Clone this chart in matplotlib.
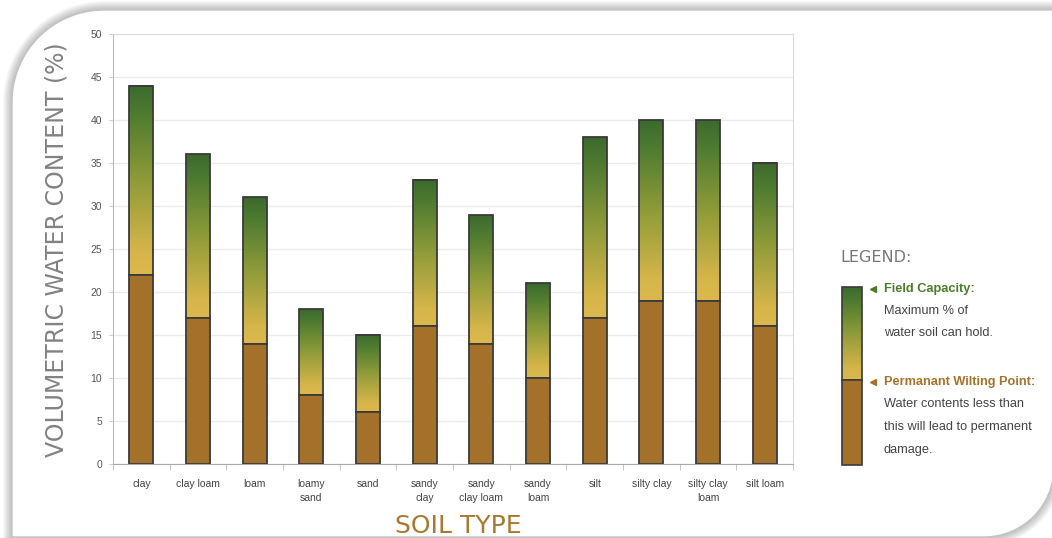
import numpy as np
import matplotlib
matplotlib.use("Agg")
import matplotlib.pyplot as plt
from matplotlib.colors import LinearSegmentedColormap
from matplotlib.path import Path
from matplotlib.patches import PathPatch

# ---------------- data ----------------
soil_types = ["clay", "clay loam", "loam", "loamy\nsand", "sand", "sandy\nclay",
              "sandy\nclay loam", "sandy\nloam", "silt", "silty clay",
              "silty clay\nloam", "silt loam"]
wilting_point = [22, 17, 14, 8, 6, 16, 14, 10, 17, 19, 19, 16]
field_capacity = [44, 36, 31, 18, 15, 33, 29, 21, 38, 40, 40, 35]
y_ticks = [0, 5, 10, 15, 20, 25, 30, 35, 40, 45, 50]

# ---------------- style ----------------
W, H = 1052, 538
BROWN = "#a3712a"
GREEN_TXT = "#4b7d2c"
BROWN_TXT = "#a6732a"
EDGE = "#3a3a3a"
grad_cmap = LinearSegmentedColormap.from_list(
    "fc", [(0.0, "#dbb84d"), (0.12, "#d6b54a"), (0.5, "#8f9b39"),
           (0.85, "#4e7b30"), (1.0, "#3c6a2e")])
plt.rcParams["font.family"] = ["Liberation Sans", "DejaVu Sans"]

fig = plt.figure(figsize=(W / 100, H / 100), dpi=100, facecolor="white")

# ---------------- background card (pixel coordinates) ----------------
bg = fig.add_axes([0, 0, 1, 1], zorder=0)
bg.set_xlim(0, W)
bg.set_ylim(H, 0)
bg.axis("off")


def arc(cx, cy, r, a0, a1, n=40):
    t = np.radians(np.linspace(a0, a1, n))
    return np.column_stack([cx + r * np.cos(t), cy + r * np.sin(t)])


r1, r2 = 92, 70
left, top, right, bottom = 12, 10, 1054, 537
pts = np.vstack([
    [[left, H + 40]],
    arc(left + r1, top + r1, r1, 180, 270),
    [[right, top]],
    arc(right - r2, bottom - r2, r2, 0, 90),
    [[left, bottom]],
    [[left, H + 40]],
])
card = Path(pts)
for i in range(8, 0, -1):
    bg.add_patch(PathPatch(card, fill=False, edgecolor="#000000",
                           lw=i * 1.6, alpha=0.03, joinstyle="round"))
bg.add_patch(PathPatch(card, facecolor="white", edgecolor="#c4c4c4", lw=1.0))

# ---------------- main chart ----------------
ax = fig.add_axes([113 / W, 1 - 464 / H, (793 - 113) / W, (464 - 34) / H], zorder=2)
ax.set_facecolor("none")
x = np.arange(len(soil_types))
bw = 0.42
grad = np.linspace(0, 1, 256).reshape(-1, 1)

for xi, wp, fc in zip(x, wilting_point, field_capacity):
    ax.imshow(grad, extent=(xi - bw / 2, xi + bw / 2, wp, fc), origin="lower",
              aspect="auto", cmap=grad_cmap, zorder=2, interpolation="bilinear")
ax.bar(x, np.array(field_capacity) - np.array(wilting_point), bw,
       bottom=wilting_point, fill=False, edgecolor=EDGE, lw=1.3, zorder=3)
ax.bar(x, wilting_point, bw, color=BROWN, edgecolor=EDGE, lw=1.3, zorder=3)

ax.set_xlim(-0.5, len(soil_types) - 0.5)
ax.set_ylim(0, 50)
ax.set_yticks(y_ticks)
ax.set_yticklabels([str(v) for v in y_ticks])
ax.yaxis.grid(True, color="#ebebeb", lw=1.0)
ax.set_axisbelow(True)
ax.tick_params(axis="y", length=3, color="#cccccc", labelsize=7.5,
               labelcolor="#555555", pad=5)
ax.set_xticks(x)
ax.set_xticklabels(soil_types, fontsize=7.5, color="#444444", linespacing=1.45)
ax.tick_params(axis="x", which="major", length=0, pad=11)
ax.set_xticks(np.arange(-0.5, len(soil_types), 1), minor=True)
ax.tick_params(axis="x", which="minor", length=4, color="#bbbbbb")
for s in ["top", "right"]:
    ax.spines[s].set_color("#dadada")
ax.spines["left"].set_color("#bbbbbb")
ax.spines["bottom"].set_color("#aaaaaa")

# axis titles
fig.text(57 / W, 1 - 250 / H, "VOLUMETRIC WATER CONTENT (%)", rotation=90,
         ha="center", va="center", fontsize=17, color="#828282",
         family="DejaVu Sans")
fig.text(458 / W, 1 - 526 / H, "SOIL TYPE", ha="center", va="center",
         fontsize=18, color="#a87a30", family="DejaVu Sans")

# ---------------- legend (pixel coordinates) ----------------
bg.text(840, 258, "LEGEND:", ha="left", va="center", fontsize=11.5,
        color="#777777", family="DejaVu Sans")
bg.imshow(grad, extent=(842, 862, 380, 287), origin="lower",
          aspect="auto", cmap=grad_cmap, zorder=3, interpolation="bilinear")
bg.add_patch(plt.Rectangle((842, 287), 20, 93, fill=False, edgecolor=EDGE,
                           lw=1.2, zorder=4))
bg.add_patch(plt.Rectangle((842, 380), 20, 85, facecolor=BROWN,
                           edgecolor=EDGE, lw=1.2, zorder=4))
bg.set_xlim(0, W)
bg.set_ylim(H, 0)
bg.plot([873], [289], marker="<", ms=4.5, color=GREEN_TXT, zorder=5)
bg.plot([873], [382], marker="<", ms=4.5, color=BROWN_TXT, zorder=5)
fs = 9.2
bg.text(884, 289, "Field Capacity:", fontsize=fs, fontweight="bold",
        color=GREEN_TXT, va="center")
bg.text(884, 311, "Maximum % of", fontsize=fs, color="#444444", va="center")
bg.text(884, 333, "water soil can hold.", fontsize=fs, color="#444444", va="center")
bg.text(884, 382, "Permanant Wilting Point:", fontsize=fs, fontweight="bold",
        color=BROWN_TXT, va="center")
bg.text(884, 404, "Water contents less than", fontsize=fs, color="#444444", va="center")
bg.text(884, 427, "this will lead to permanent", fontsize=fs, color="#444444", va="center")
bg.text(884, 450, "damage.", fontsize=fs, color="#444444", va="center")

fig.savefig("out.png", dpi=100, facecolor="white")
